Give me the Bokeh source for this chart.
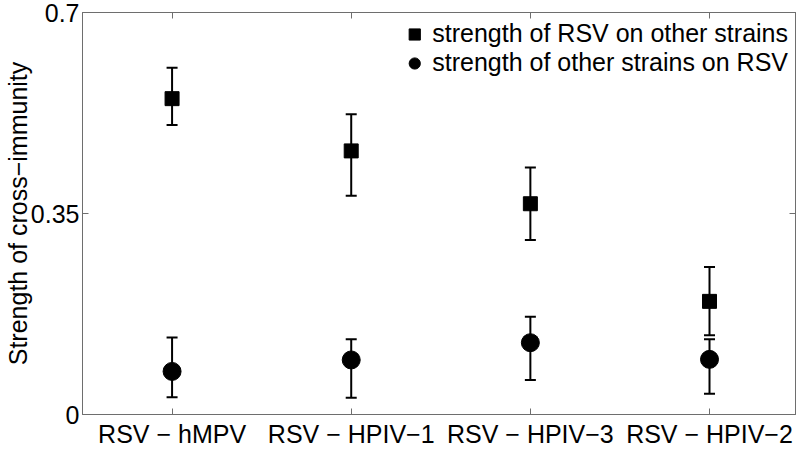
from bokeh.plotting import figure
from bokeh.models import (ColumnDataSource, Whisker, TeeHead, FixedTicker,
                          LinearAxis, Legend, LegendItem)
from bokeh.embed import file_html
from bokeh.resources import INLINE

pairs = ["RSV \u2212 hMPV", "RSV \u2212 HPIV\u22121", "RSV \u2212 HPIV\u22123", "RSV \u2212 HPIV\u22122"]
xpos = [1, 2, 3, 4]

rsv_on_other = [0.550, 0.459, 0.367, 0.197]
rsv_on_other_lo = [0.504, 0.381, 0.304, 0.138]
rsv_on_other_hi = [0.604, 0.523, 0.430, 0.257]

other_on_rsv = [0.075, 0.095, 0.125, 0.096]
other_on_rsv_lo = [0.030, 0.029, 0.060, 0.036]
other_on_rsv_hi = [0.134, 0.131, 0.170, 0.131]

y_ticks = [0, 0.35, 0.7]
y_tick_labels = ["0", "0.35", "0.7"]

FONT = "Liberation Sans"
FS = "25px"
FRAME = "#6e6e6e"

src_sq = ColumnDataSource(dict(x=xpos, y=rsv_on_other, lo=rsv_on_other_lo, hi=rsv_on_other_hi))
src_ci = ColumnDataSource(dict(x=xpos, y=other_on_rsv, lo=other_on_rsv_lo, hi=other_on_rsv_hi))

p = figure(width=796, height=451, x_range=(0.5, 4.48), y_range=(0, 0.7),
           output_backend="svg", toolbar_location=None,
           min_border_left=0, min_border_right=1, min_border_top=12, min_border_bottom=37)
p.xgrid.visible = False
p.ygrid.visible = False
p.outline_line_color = FRAME
p.background_fill_color = "white"
p.border_fill_color = "white"

for ax in (p.xaxis[0], p.yaxis[0]):
    ax.axis_line_color = FRAME
    ax.major_tick_line_color = FRAME
    ax.major_tick_in = 6
    ax.major_tick_out = 0
    ax.minor_tick_line_color = None
    ax.major_label_text_font = FONT
    ax.major_label_text_font_size = FS
    ax.major_label_text_color = "black"

p.xaxis.ticker = FixedTicker(ticks=xpos)
p.xaxis.major_label_overrides = {x: lab for x, lab in zip(xpos, pairs)}
p.xaxis.major_label_standoff = 5
p.yaxis.ticker = FixedTicker(ticks=y_ticks)
p.yaxis.major_label_overrides = {t: lab for t, lab in zip(y_ticks, y_tick_labels)}
p.yaxis.major_label_standoff = 3
p.yaxis.axis_label = "Strength of cross\u2212immunity"
p.yaxis.axis_label_text_font = FONT
p.yaxis.axis_label_text_font_size = FS
p.yaxis.axis_label_text_font_style = "normal"
p.yaxis.axis_label_text_color = "black"
p.yaxis.axis_label_standoff = -4

top_ax = LinearAxis(ticker=FixedTicker(ticks=xpos), major_label_text_font_size="0px",
                    major_label_text_color=None,
                    major_label_standoff=0, major_tick_in=6, major_tick_out=0,
                    minor_tick_line_color=None, axis_line_color=FRAME,
                    major_tick_line_color=FRAME)
right_ax = LinearAxis(ticker=FixedTicker(ticks=y_ticks), major_label_text_font_size="0px",
                      major_label_text_color=None,
                      major_label_standoff=0, major_tick_in=6, major_tick_out=0,
                      minor_tick_line_color=None, axis_line_color=FRAME,
                      major_tick_line_color=FRAME)
p.add_layout(top_ax, "above")
p.add_layout(right_ax, "right")

for src in (src_sq, src_ci):
    w = Whisker(base="x", upper="hi", lower="lo", source=src, line_width=2, line_color="black",
                upper_head=TeeHead(size=11, line_width=2, line_color="black"),
                lower_head=TeeHead(size=11, line_width=2, line_color="black"))
    p.add_layout(w)

r_sq = p.scatter("x", "y", source=src_sq, marker="square", size=14, color="black")
r_ci = p.scatter("x", "y", source=src_ci, marker="circle", size=18, color="black")

legend = Legend(items=[LegendItem(label="strength of RSV on other strains", renderers=[r_sq]),
                       LegendItem(label="strength of other strains on RSV", renderers=[r_ci])],
                location="top_right", border_line_color=None, background_fill_alpha=0,
                label_text_font=FONT, label_text_font_size=FS, label_text_color="black",
                glyph_width=32, glyph_height=28, spacing=0, label_standoff=2,
                padding=3, margin=7, label_height=28)
p.add_layout(legend)

open("out.html", "w").write(file_html(p, INLINE))
